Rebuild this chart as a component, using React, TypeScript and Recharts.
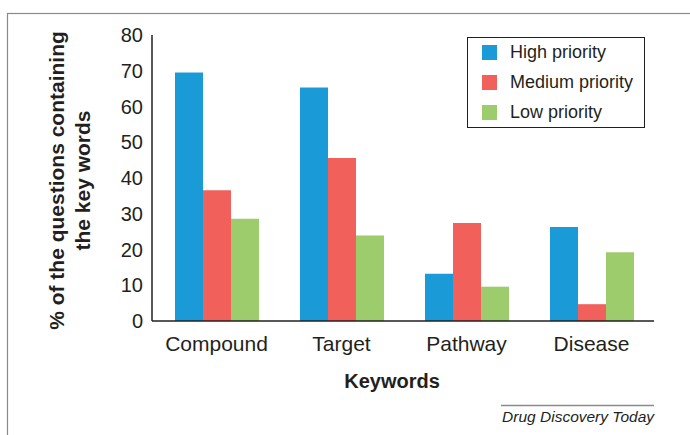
import React from 'react';
import { BarChart, Bar, XAxis, YAxis, Legend, Label } from 'recharts';

// values (% of questions containing the key words)
const categories = ['Compound', 'Target', 'Pathway', 'Disease'];
const highPriority = [69.5, 65.3, 13.2, 26.3];
const mediumPriority = [36.6, 45.6, 27.4, 4.7];
const lowPriority = [28.6, 23.9, 9.6, 19.2];
const yTicks = [0, 10, 20, 30, 40, 50, 60, 70, 80];

const seriesNames = ['High priority', 'Medium priority', 'Low priority'];
const seriesColors = ['#1a9bd7', '#f1605a', '#9ccc6b'];

const FONT = '"Liberation Sans", Arial, Helvetica, sans-serif';
const INK = '#231f20';

const data = categories.map((name, i) => ({
  name,
  high: highPriority[i],
  medium: mediumPriority[i],
  low: lowPriority[i],
}));

// two-line rotated y axis title
const YTitle = () => (
  <g fontFamily={FONT} fontWeight="bold" fontSize={21} fill={INK}>
    <text transform="rotate(-90)" x={-180.5} y={64} textAnchor="middle">
      % of the questions containing
    </text>
    <text transform="rotate(-90)" x={-180.5} y={90} textAnchor="middle">
      the key words
    </text>
  </g>
);

const XTitle = () => (
  <text x={392} y={388} textAnchor="middle" fontFamily={FONT} fontWeight="bold" fontSize={20} fill={INK}>
    Keywords
  </text>
);

// legend keeps the series order (high, medium, low)
const renderLegend = () => (
  <div
    style={{
      boxSizing: 'border-box',
      width: 178,
      height: 91,
      border: `1px solid ${INK}`,
      background: '#fff',
      position: 'relative',
      fontFamily: FONT,
      fontSize: 18,
      color: INK,
    }}
  >
    {seriesNames.map((name, i) => (
      <div
        key={`leg-${i}`}
        style={{
          position: 'absolute',
          left: 14,
          top: 7 + i * 30,
          height: 15,
          display: 'flex',
          alignItems: 'center',
          whiteSpace: 'nowrap',
        }}
      >
        <span style={{ display: 'inline-block', width: 15, height: 15, background: seriesColors[i], marginRight: 13 }} />
        <span style={{ lineHeight: '15px' }}>{name}</span>
      </div>
    ))}
  </div>
);

export default function App() {
  return (
    <div style={{ position: 'fixed', left: 0, top: 0, width: 690, height: 435, overflow: 'hidden', background: '#fff' }}>
      <div style={{ position: 'absolute', left: 0, top: 0 }}>
        <BarChart
          width={690}
          height={435}
          data={data}
          margin={{ top: 35, right: 36, bottom: 0, left: 0 }}
          barGap={0}
        >
          <XAxis
            dataKey="name"
            height={114}
            tickLine={false}
            tickSize={0}
            tickMargin={15}
            padding={{ left: 2, right: 0 }}
            axisLine={{ stroke: INK, strokeWidth: 1.5 }}
            tick={{ fill: INK, fontSize: 21, fontFamily: FONT }}
          >
            <Label content={XTitle} />
          </XAxis>
          <YAxis
            width={152}
            domain={[0, 80]}
            ticks={yTicks}
            interval={0}
            tickLine={false}
            tickSize={0}
            tickMargin={9}
            axisLine={{ stroke: INK, strokeWidth: 1.5 }}
            tick={{ fill: INK, fontSize: 20, fontFamily: FONT }}
          >
            <Label content={YTitle} />
          </YAxis>
          <Legend
            layout="vertical"
            align="center"
            verticalAlign="middle"
            content={renderLegend}
            wrapperStyle={{ position: 'absolute', left: 467, top: 37, width: 178, height: 91 }}
          />
          <Bar dataKey="high" name={seriesNames[0]} fill={seriesColors[0]} barSize={28} isAnimationActive={false} />
          <Bar dataKey="medium" name={seriesNames[1]} fill={seriesColors[1]} barSize={28} isAnimationActive={false} />
          <Bar dataKey="low" name={seriesNames[2]} fill={seriesColors[2]} barSize={28} isAnimationActive={false} />
        </BarChart>
      </div>
      {/* outer frame and source credit */}
      <svg width={690} height={435} style={{ position: 'absolute', left: 0, top: 0, pointerEvents: 'none' }}>
        <rect x={7.5} y={13.5} width={720} height={500} fill="none" stroke="#8a8a8a" strokeWidth={1.2} />
        <line x1={501} x2={654} y1={405.5} y2={405.5} stroke="#8a8a8a" strokeWidth={1.5} />
        <text x={654} y={422} textAnchor="end" fontFamily={FONT} fontStyle="italic" fontSize={15.5} fill={INK}>
          Drug Discovery Today
        </text>
      </svg>
    </div>
  );
}
